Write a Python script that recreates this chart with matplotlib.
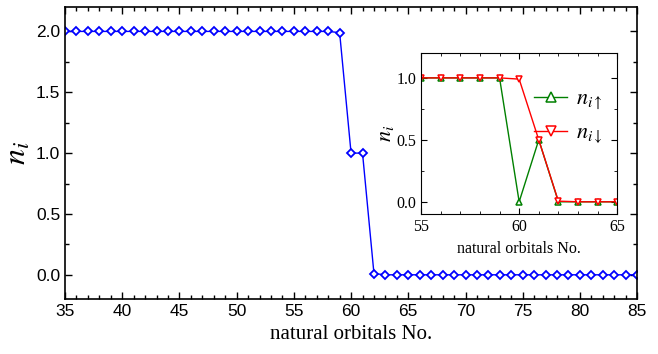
import matplotlib
matplotlib.use("Agg")
import matplotlib.pyplot as plt
from matplotlib.ticker import MultipleLocator, FormatStrFormatter

# main data: occupation of natural orbitals
orb = list(range(35, 86))
n_tot = [2.0] * 24 + [1.99, 1.0, 1.0, 0.01] + [0.0] * 23

# inset data
orb_in = list(range(55, 66))
n_up = [1.0, 1.0, 1.0, 1.0, 1.0, 0.0, 0.5, 0.0, 0.0, 0.0, 0.0]
n_dn = [1.0, 1.0, 1.0, 1.0, 1.0, 0.99, 0.5, 0.005, 0.0, 0.0, 0.0]

serif = ["Liberation Serif", "DejaVu Serif"]
sans = ["Liberation Sans", "DejaVu Sans"]
plt.rcParams["mathtext.fontset"] = "stix"

fig = plt.figure(figsize=(6.58, 3.54), dpi=100)
ax = fig.add_axes([0.0988, 0.155, 0.8695, 0.825])
ax.plot(orb, n_tot, color="blue", lw=1, marker="D", ms=4.3, mfc="white",
        mec="blue", mew=1.3)
ax.set_xlim(35, 85)
ax.set_ylim(-0.2, 2.2)
ax.xaxis.set_major_locator(MultipleLocator(5))
ax.xaxis.set_minor_locator(MultipleLocator(1))
ax.yaxis.set_major_locator(MultipleLocator(0.5))
ax.yaxis.set_minor_locator(MultipleLocator(0.25))
ax.yaxis.set_major_formatter(FormatStrFormatter("%.1f"))
ax.tick_params(which="both", direction="in", top=True, right=True)
ax.tick_params(which="major", length=5, width=1, labelsize=12.5)
ax.tick_params(which="minor", length=3, width=1)
for lab in ax.get_xticklabels() + ax.get_yticklabels():
    lab.set_family(sans)
ax.set_xlabel("natural orbitals No.", family=serif, fontsize=15)
ax.set_ylabel(r"$n_i$", fontsize=23)
ax.yaxis.set_label_coords(-0.056, 0.5)
for s in ax.spines.values():
    s.set_linewidth(1.2)

ins = fig.add_axes([0.640, 0.395, 0.298, 0.455])
ins.plot(orb_in, n_up, color="green", lw=1, marker="^", ms=5, mfc="white",
         mec="green", mew=1.1, label=r"$n_{i\uparrow}$")
ins.plot(orb_in, n_dn, color="red", lw=1, marker="v", ms=5, mfc="white",
         mec="red", mew=1.1, label=r"$n_{i\downarrow}$")
ins.set_xlim(55, 65)
ins.set_ylim(-0.1, 1.2)
ins.xaxis.set_major_locator(MultipleLocator(5))
ins.xaxis.set_minor_locator(MultipleLocator(1))
ins.yaxis.set_major_locator(MultipleLocator(0.5))
ins.yaxis.set_minor_locator(MultipleLocator(0.25))
ins.yaxis.set_major_formatter(FormatStrFormatter("%.1f"))
ins.tick_params(which="both", direction="in", top=True, right=True)
ins.tick_params(which="major", length=4, labelsize=11.5)
ins.tick_params(which="minor", length=2)
for lab in ins.get_xticklabels() + ins.get_yticklabels():
    lab.set_family(serif)
ins.set_xlabel("natural orbitals No.", family=serif, fontsize=11.5)
ins.set_ylabel(r"$n_i$", fontsize=16, labelpad=0)
ins.legend(loc="center right", frameon=False, fontsize=16, handlelength=1.5,
           markerscale=1.5, bbox_to_anchor=(1.03, 0.6), labelspacing=0.5,
           handletextpad=0.4)

fig.savefig("out.png", dpi=100)
